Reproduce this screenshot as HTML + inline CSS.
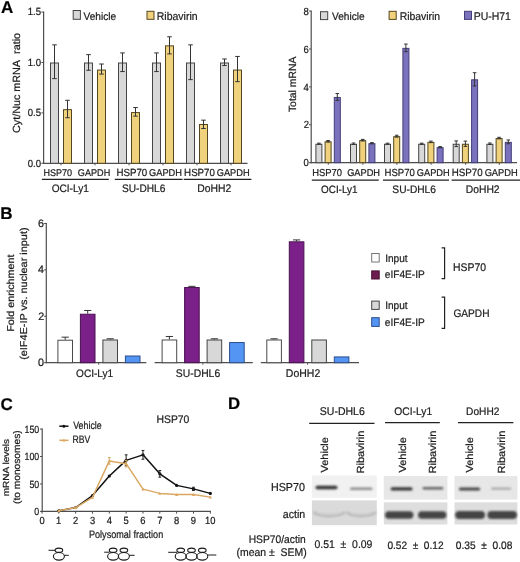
<!DOCTYPE html>
<html><head><meta charset="utf-8"><style>
html,body{margin:0;padding:0;background:#fff;}
body{width:520px;height:562px;overflow:hidden;}
svg{display:block;will-change:transform;font-family:"Liberation Sans", sans-serif;}
text{stroke:#1c1c1c;stroke-width:0.22px;}
</style></head><body>
<svg text-rendering="geometricPrecision" width="520" height="562" viewBox="0 0 520 562">
<defs><filter id="bl1" x="-20%" y="-100%" width="140%" height="300%"><feGaussianBlur stdDeviation="0.9"/></filter><filter id="bl2" x="-20%" y="-100%" width="140%" height="300%"><feGaussianBlur stdDeviation="1.4"/></filter></defs>
<rect width="520" height="562" fill="#fff"/>
<text x="0.9" y="13.4" font-size="17.0" text-anchor="start" fill="#000" font-weight="bold">A</text>
<text x="0.2" y="219.0" font-size="17.0" text-anchor="start" fill="#000" font-weight="bold">B</text>
<text x="0.5" y="409.5" font-size="17.0" text-anchor="start" fill="#000" font-weight="bold">C</text>
<text x="228.1" y="409.3" font-size="16.8" text-anchor="start" fill="#000" font-weight="bold">D</text>
<line x1="43.6" y1="11.600000000000023" x2="43.6" y2="163.8" stroke="#4d4d4d" stroke-width="1.2"/>
<line x1="41.4" y1="163.3" x2="43.6" y2="163.3" stroke="#4d4d4d" stroke-width="1"/>
<text x="27.68" y="166.6" font-size="10.4" text-anchor="start" fill="#1a1a1a" textLength="13.3" lengthAdjust="spacingAndGlyphs">0.0</text>
<line x1="41.4" y1="112.9" x2="43.6" y2="112.9" stroke="#4d4d4d" stroke-width="1"/>
<text x="27.68" y="116.2" font-size="10.4" text-anchor="start" fill="#1a1a1a" textLength="13.3" lengthAdjust="spacingAndGlyphs">0.5</text>
<line x1="41.4" y1="62.500000000000014" x2="43.6" y2="62.500000000000014" stroke="#4d4d4d" stroke-width="1"/>
<text x="27.68" y="65.8" font-size="10.4" text-anchor="start" fill="#1a1a1a" textLength="13.3" lengthAdjust="spacingAndGlyphs">1.0</text>
<line x1="41.4" y1="12.100000000000023" x2="43.6" y2="12.100000000000023" stroke="#4d4d4d" stroke-width="1"/>
<text x="27.68" y="15.4" font-size="10.4" text-anchor="start" fill="#1a1a1a" textLength="13.3" lengthAdjust="spacingAndGlyphs">1.5</text>
<line x1="43.0" y1="163.3" x2="247.5" y2="163.3" stroke="#4d4d4d" stroke-width="1.2"/>
<text transform="translate(20.0,133.04) rotate(-90)" font-size="10.4" text-anchor="start" fill="#1c1c1c" textLength="100.07" lengthAdjust="spacingAndGlyphs">Cyt/Nuc mRNA&#160; ratio</text>
<rect x="50.5" y="63.0" width="8" height="100.3" fill="#d8d8d8" stroke="#444444" stroke-width="1"/>
<line x1="54.5" y1="44.860000000000014" x2="54.5" y2="78.62800000000001" stroke="#333" stroke-width="1"/>
<line x1="52.2" y1="44.860000000000014" x2="56.8" y2="44.860000000000014" stroke="#333" stroke-width="1"/>
<line x1="52.2" y1="78.62800000000001" x2="56.8" y2="78.62800000000001" stroke="#333" stroke-width="1"/>
<rect x="63.5" y="109.67" width="8" height="53.63" fill="#f1d27c" stroke="#54471f" stroke-width="1"/>
<line x1="67.5" y1="100.30000000000001" x2="67.5" y2="117.73840000000001" stroke="#333" stroke-width="1"/>
<line x1="65.2" y1="100.30000000000001" x2="69.8" y2="100.30000000000001" stroke="#333" stroke-width="1"/>
<line x1="65.2" y1="117.73840000000001" x2="69.8" y2="117.73840000000001" stroke="#333" stroke-width="1"/>
<line x1="61" y1="163.3" x2="61" y2="165.3" stroke="#4d4d4d" stroke-width="1"/>
<rect x="84.5" y="63.0" width="8" height="100.3" fill="#d8d8d8" stroke="#444444" stroke-width="1"/>
<line x1="88.5" y1="54.637600000000006" x2="88.5" y2="70.26160000000002" stroke="#333" stroke-width="1"/>
<line x1="86.2" y1="54.637600000000006" x2="90.8" y2="54.637600000000006" stroke="#333" stroke-width="1"/>
<line x1="86.2" y1="70.26160000000002" x2="90.8" y2="70.26160000000002" stroke="#333" stroke-width="1"/>
<rect x="97.5" y="70.06" width="8" height="93.24" fill="#f1d27c" stroke="#54471f" stroke-width="1"/>
<line x1="101.5" y1="64.012" x2="101.5" y2="74.09200000000001" stroke="#333" stroke-width="1"/>
<line x1="99.2" y1="64.012" x2="103.8" y2="64.012" stroke="#333" stroke-width="1"/>
<line x1="99.2" y1="74.09200000000001" x2="103.8" y2="74.09200000000001" stroke="#333" stroke-width="1"/>
<line x1="95" y1="163.3" x2="95" y2="165.3" stroke="#4d4d4d" stroke-width="1"/>
<rect x="118.5" y="63.0" width="8" height="100.3" fill="#d8d8d8" stroke="#444444" stroke-width="1"/>
<line x1="122.5" y1="52.92400000000002" x2="122.5" y2="71.57200000000002" stroke="#333" stroke-width="1"/>
<line x1="120.2" y1="52.92400000000002" x2="124.8" y2="52.92400000000002" stroke="#333" stroke-width="1"/>
<line x1="120.2" y1="71.57200000000002" x2="124.8" y2="71.57200000000002" stroke="#333" stroke-width="1"/>
<rect x="131.5" y="112.59" width="8" height="50.71" fill="#f1d27c" stroke="#54471f" stroke-width="1"/>
<line x1="135.5" y1="107.55760000000001" x2="135.5" y2="116.12560000000002" stroke="#333" stroke-width="1"/>
<line x1="133.2" y1="107.55760000000001" x2="137.8" y2="107.55760000000001" stroke="#333" stroke-width="1"/>
<line x1="133.2" y1="116.12560000000002" x2="137.8" y2="116.12560000000002" stroke="#333" stroke-width="1"/>
<line x1="129" y1="163.3" x2="129" y2="165.3" stroke="#4d4d4d" stroke-width="1"/>
<rect x="152.5" y="63.0" width="8" height="100.3" fill="#d8d8d8" stroke="#444444" stroke-width="1"/>
<line x1="156.5" y1="52.92400000000002" x2="156.5" y2="71.57200000000002" stroke="#333" stroke-width="1"/>
<line x1="154.2" y1="52.92400000000002" x2="158.8" y2="52.92400000000002" stroke="#333" stroke-width="1"/>
<line x1="154.2" y1="71.57200000000002" x2="158.8" y2="71.57200000000002" stroke="#333" stroke-width="1"/>
<rect x="165.5" y="45.86" width="8" height="117.44" fill="#f1d27c" stroke="#54471f" stroke-width="1"/>
<line x1="169.5" y1="36.79600000000002" x2="169.5" y2="53.932000000000016" stroke="#333" stroke-width="1"/>
<line x1="167.2" y1="36.79600000000002" x2="171.8" y2="36.79600000000002" stroke="#333" stroke-width="1"/>
<line x1="167.2" y1="53.932000000000016" x2="171.8" y2="53.932000000000016" stroke="#333" stroke-width="1"/>
<line x1="163" y1="163.3" x2="163" y2="165.3" stroke="#4d4d4d" stroke-width="1"/>
<rect x="186.5" y="63.0" width="8" height="100.3" fill="#d8d8d8" stroke="#444444" stroke-width="1"/>
<line x1="190.5" y1="44.860000000000014" x2="190.5" y2="79.63600000000002" stroke="#333" stroke-width="1"/>
<line x1="188.2" y1="44.860000000000014" x2="192.8" y2="44.860000000000014" stroke="#333" stroke-width="1"/>
<line x1="188.2" y1="79.63600000000002" x2="192.8" y2="79.63600000000002" stroke="#333" stroke-width="1"/>
<rect x="199.5" y="124.49" width="8" height="38.81" fill="#f1d27c" stroke="#54471f" stroke-width="1"/>
<line x1="203.5" y1="120.15760000000002" x2="203.5" y2="128.524" stroke="#333" stroke-width="1"/>
<line x1="201.2" y1="120.15760000000002" x2="205.8" y2="120.15760000000002" stroke="#333" stroke-width="1"/>
<line x1="201.2" y1="128.524" x2="205.8" y2="128.524" stroke="#333" stroke-width="1"/>
<line x1="197" y1="163.3" x2="197" y2="165.3" stroke="#4d4d4d" stroke-width="1"/>
<rect x="220.5" y="63.0" width="8" height="100.3" fill="#d8d8d8" stroke="#444444" stroke-width="1"/>
<line x1="224.5" y1="58.97200000000002" x2="224.5" y2="65.52400000000002" stroke="#333" stroke-width="1"/>
<line x1="222.2" y1="58.97200000000002" x2="226.8" y2="58.97200000000002" stroke="#333" stroke-width="1"/>
<line x1="222.2" y1="65.52400000000002" x2="226.8" y2="65.52400000000002" stroke="#333" stroke-width="1"/>
<rect x="233.5" y="70.06" width="8" height="93.24" fill="#f1d27c" stroke="#54471f" stroke-width="1"/>
<line x1="237.5" y1="56.45200000000001" x2="237.5" y2="81.65200000000002" stroke="#333" stroke-width="1"/>
<line x1="235.2" y1="56.45200000000001" x2="239.8" y2="56.45200000000001" stroke="#333" stroke-width="1"/>
<line x1="235.2" y1="81.65200000000002" x2="239.8" y2="81.65200000000002" stroke="#333" stroke-width="1"/>
<line x1="231" y1="163.3" x2="231" y2="165.3" stroke="#4d4d4d" stroke-width="1"/>
<text x="43.38" y="176.2" font-size="9.66" text-anchor="start" fill="#1c1c1c" textLength="28.62" lengthAdjust="spacingAndGlyphs">HSP70</text>
<text x="77.84" y="176.2" font-size="9.75" text-anchor="start" fill="#1c1c1c" textLength="32.4" lengthAdjust="spacingAndGlyphs">GAPDH</text>
<text x="116.42" y="176.2" font-size="10.4" text-anchor="start" fill="#1c1c1c" textLength="30.8" lengthAdjust="spacingAndGlyphs">HSP70</text>
<text x="149.04" y="176.2" font-size="9.9" text-anchor="start" fill="#1c1c1c" textLength="32.91" lengthAdjust="spacingAndGlyphs">GAPDH</text>
<text x="184.12" y="176.2" font-size="10.4" text-anchor="start" fill="#1c1c1c" textLength="30.8" lengthAdjust="spacingAndGlyphs">HSP70</text>
<text x="216.74" y="176.2" font-size="9.9" text-anchor="start" fill="#1c1c1c" textLength="32.91" lengthAdjust="spacingAndGlyphs">GAPDH</text>
<line x1="41.9" y1="179.4" x2="108.8" y2="179.4" stroke="#222" stroke-width="1.2"/>
<line x1="114.8" y1="179.4" x2="182.5" y2="179.4" stroke="#222" stroke-width="1.2"/>
<line x1="183.7" y1="179.4" x2="251.4" y2="179.4" stroke="#222" stroke-width="1.2"/>
<text x="51.64" y="192.4" font-size="10.82" text-anchor="start" fill="#1c1c1c" textLength="37.27" lengthAdjust="spacingAndGlyphs">OCI-Ly1</text>
<text x="122.04" y="192.4" font-size="10.83" text-anchor="start" fill="#1c1c1c" textLength="43.3" lengthAdjust="spacingAndGlyphs">SU-DHL6</text>
<text x="197.27" y="192.4" font-size="11.07" text-anchor="start" fill="#1c1c1c" textLength="33.93" lengthAdjust="spacingAndGlyphs">DoHH2</text>
<rect x="73.2" y="10.5" width="7.2" height="8.8" fill="#d8d8d8" stroke="#444444" stroke-width="1"/>
<text x="83.55" y="19.6" font-size="10.82" text-anchor="start" fill="#1c1c1c" textLength="32.6" lengthAdjust="spacingAndGlyphs">Vehicle</text>
<rect x="147.0" y="11.3" width="7.0" height="8.0" fill="#f1d27c" stroke="#54471f" stroke-width="1"/>
<text x="156.76" y="19.6" font-size="11.23" text-anchor="start" fill="#1c1c1c" textLength="40.82" lengthAdjust="spacingAndGlyphs">Ribavirin</text>
<line x1="311.2" y1="10.599999999999994" x2="311.2" y2="163.2" stroke="#4d4d4d" stroke-width="1.2"/>
<line x1="309.0" y1="162.7" x2="311.2" y2="162.7" stroke="#4d4d4d" stroke-width="1"/>
<text x="303.57" y="166.3" font-size="10.4" text-anchor="start" fill="#1a1a1a" textLength="5.32" lengthAdjust="spacingAndGlyphs">0</text>
<line x1="309.0" y1="124.79999999999998" x2="311.2" y2="124.79999999999998" stroke="#4d4d4d" stroke-width="1"/>
<text x="303.67" y="128.4" font-size="10.4" text-anchor="start" fill="#1a1a1a" textLength="5.32" lengthAdjust="spacingAndGlyphs">2</text>
<line x1="309.0" y1="86.89999999999999" x2="311.2" y2="86.89999999999999" stroke="#4d4d4d" stroke-width="1"/>
<text x="303.48" y="90.5" font-size="10.4" text-anchor="start" fill="#1a1a1a" textLength="5.32" lengthAdjust="spacingAndGlyphs">4</text>
<line x1="309.0" y1="49.0" x2="311.2" y2="49.0" stroke="#4d4d4d" stroke-width="1"/>
<text x="303.62" y="52.6" font-size="10.4" text-anchor="start" fill="#1a1a1a" textLength="5.32" lengthAdjust="spacingAndGlyphs">6</text>
<line x1="309.0" y1="11.099999999999994" x2="311.2" y2="11.099999999999994" stroke="#4d4d4d" stroke-width="1"/>
<text x="303.57" y="14.7" font-size="10.4" text-anchor="start" fill="#1a1a1a" textLength="5.32" lengthAdjust="spacingAndGlyphs">8</text>
<line x1="310.59999999999997" y1="162.7" x2="517" y2="162.7" stroke="#4d4d4d" stroke-width="1.2"/>
<text transform="translate(296.3,112.11) rotate(-90)" font-size="10.4" text-anchor="start" fill="#1c1c1c" textLength="55.6" lengthAdjust="spacingAndGlyphs">Total mRNA</text>
<rect x="315.9" y="144.25" width="6.0" height="18.45" fill="#d8d8d8" stroke="#444444" stroke-width="1"/>
<line x1="318.9" y1="143.1815" x2="318.9" y2="144.3185" stroke="#333" stroke-width="1"/>
<line x1="317.09999999999997" y1="143.1815" x2="320.7" y2="143.1815" stroke="#333" stroke-width="1"/>
<line x1="317.09999999999997" y1="144.3185" x2="320.7" y2="144.3185" stroke="#333" stroke-width="1"/>
<rect x="325.1" y="141.79" width="6.0" height="20.91" fill="#f1d27c" stroke="#54471f" stroke-width="1"/>
<line x1="328.09999999999997" y1="140.52849999999998" x2="328.09999999999997" y2="142.0445" stroke="#333" stroke-width="1"/>
<line x1="326.29999999999995" y1="140.52849999999998" x2="329.9" y2="140.52849999999998" stroke="#333" stroke-width="1"/>
<line x1="326.29999999999995" y1="142.0445" x2="329.9" y2="142.0445" stroke="#333" stroke-width="1"/>
<rect x="334.3" y="97.44" width="6.0" height="65.26" fill="#7b72be" stroke="#433d78" stroke-width="1"/>
<line x1="337.29999999999995" y1="93.53249999999998" x2="337.29999999999995" y2="100.35449999999999" stroke="#333" stroke-width="1"/>
<line x1="335.49999999999994" y1="93.53249999999998" x2="339.09999999999997" y2="93.53249999999998" stroke="#333" stroke-width="1"/>
<line x1="335.49999999999994" y1="100.35449999999999" x2="339.09999999999997" y2="100.35449999999999" stroke="#333" stroke-width="1"/>
<line x1="328.29999999999995" y1="162.7" x2="328.29999999999995" y2="164.7" stroke="#4d4d4d" stroke-width="1"/>
<rect x="350.5" y="144.25" width="6.0" height="18.45" fill="#d8d8d8" stroke="#444444" stroke-width="1"/>
<line x1="353.5" y1="142.992" x2="353.5" y2="144.50799999999998" stroke="#333" stroke-width="1"/>
<line x1="351.7" y1="142.992" x2="355.3" y2="142.992" stroke="#333" stroke-width="1"/>
<line x1="351.7" y1="144.50799999999998" x2="355.3" y2="144.50799999999998" stroke="#333" stroke-width="1"/>
<rect x="359.7" y="140.65" width="6.0" height="22.05" fill="#f1d27c" stroke="#54471f" stroke-width="1"/>
<line x1="362.7" y1="139.39149999999998" x2="362.7" y2="140.9075" stroke="#333" stroke-width="1"/>
<line x1="360.9" y1="139.39149999999998" x2="364.5" y2="139.39149999999998" stroke="#333" stroke-width="1"/>
<line x1="360.9" y1="140.9075" x2="364.5" y2="140.9075" stroke="#333" stroke-width="1"/>
<rect x="368.9" y="143.68" width="6.0" height="19.02" fill="#7b72be" stroke="#433d78" stroke-width="1"/>
<line x1="371.9" y1="142.613" x2="371.9" y2="143.75" stroke="#333" stroke-width="1"/>
<line x1="370.09999999999997" y1="142.613" x2="373.7" y2="142.613" stroke="#333" stroke-width="1"/>
<line x1="370.09999999999997" y1="143.75" x2="373.7" y2="143.75" stroke="#333" stroke-width="1"/>
<line x1="362.9" y1="162.7" x2="362.9" y2="164.7" stroke="#4d4d4d" stroke-width="1"/>
<rect x="384.5" y="144.25" width="6.0" height="18.45" fill="#d8d8d8" stroke="#444444" stroke-width="1"/>
<line x1="387.5" y1="143.1815" x2="387.5" y2="144.3185" stroke="#333" stroke-width="1"/>
<line x1="385.7" y1="143.1815" x2="389.3" y2="143.1815" stroke="#333" stroke-width="1"/>
<line x1="385.7" y1="144.3185" x2="389.3" y2="144.3185" stroke="#333" stroke-width="1"/>
<rect x="393.7" y="136.67" width="6.0" height="26.03" fill="#f1d27c" stroke="#54471f" stroke-width="1"/>
<line x1="396.7" y1="135.2225" x2="396.7" y2="137.1175" stroke="#333" stroke-width="1"/>
<line x1="394.9" y1="135.2225" x2="398.5" y2="135.2225" stroke="#333" stroke-width="1"/>
<line x1="394.9" y1="137.1175" x2="398.5" y2="137.1175" stroke="#333" stroke-width="1"/>
<rect x="402.9" y="48.36" width="6.0" height="114.34" fill="#7b72be" stroke="#433d78" stroke-width="1"/>
<line x1="405.9" y1="44.07299999999999" x2="405.9" y2="51.653000000000006" stroke="#333" stroke-width="1"/>
<line x1="404.09999999999997" y1="44.07299999999999" x2="407.7" y2="44.07299999999999" stroke="#333" stroke-width="1"/>
<line x1="404.09999999999997" y1="51.653000000000006" x2="407.7" y2="51.653000000000006" stroke="#333" stroke-width="1"/>
<line x1="396.9" y1="162.7" x2="396.9" y2="164.7" stroke="#4d4d4d" stroke-width="1"/>
<rect x="418.7" y="144.25" width="6.0" height="18.45" fill="#d8d8d8" stroke="#444444" stroke-width="1"/>
<line x1="421.7" y1="143.1815" x2="421.7" y2="144.3185" stroke="#333" stroke-width="1"/>
<line x1="419.9" y1="143.1815" x2="423.5" y2="143.1815" stroke="#333" stroke-width="1"/>
<line x1="419.9" y1="144.3185" x2="423.5" y2="144.3185" stroke="#333" stroke-width="1"/>
<rect x="427.9" y="142.35" width="6.0" height="20.34" fill="#f1d27c" stroke="#54471f" stroke-width="1"/>
<line x1="430.9" y1="141.09699999999998" x2="430.9" y2="142.613" stroke="#333" stroke-width="1"/>
<line x1="429.09999999999997" y1="141.09699999999998" x2="432.7" y2="141.09699999999998" stroke="#333" stroke-width="1"/>
<line x1="429.09999999999997" y1="142.613" x2="432.7" y2="142.613" stroke="#333" stroke-width="1"/>
<rect x="437.1" y="147.66" width="6.0" height="15.04" fill="#7b72be" stroke="#433d78" stroke-width="1"/>
<line x1="440.09999999999997" y1="146.5925" x2="440.09999999999997" y2="147.7295" stroke="#333" stroke-width="1"/>
<line x1="438.29999999999995" y1="146.5925" x2="441.9" y2="146.5925" stroke="#333" stroke-width="1"/>
<line x1="438.29999999999995" y1="147.7295" x2="441.9" y2="147.7295" stroke="#333" stroke-width="1"/>
<line x1="431.09999999999997" y1="162.7" x2="431.09999999999997" y2="164.7" stroke="#4d4d4d" stroke-width="1"/>
<rect x="453.2" y="144.25" width="6.0" height="18.45" fill="#d8d8d8" stroke="#444444" stroke-width="1"/>
<line x1="456.2" y1="140.9075" x2="456.2" y2="146.5925" stroke="#333" stroke-width="1"/>
<line x1="454.4" y1="140.9075" x2="458.0" y2="140.9075" stroke="#333" stroke-width="1"/>
<line x1="454.4" y1="146.5925" x2="458.0" y2="146.5925" stroke="#333" stroke-width="1"/>
<rect x="462.4" y="144.25" width="6.0" height="18.45" fill="#f1d27c" stroke="#54471f" stroke-width="1"/>
<line x1="465.4" y1="141.09699999999998" x2="465.4" y2="146.403" stroke="#333" stroke-width="1"/>
<line x1="463.59999999999997" y1="141.09699999999998" x2="467.2" y2="141.09699999999998" stroke="#333" stroke-width="1"/>
<line x1="463.59999999999997" y1="146.403" x2="467.2" y2="146.403" stroke="#333" stroke-width="1"/>
<rect x="471.6" y="79.82" width="6.0" height="82.88" fill="#7b72be" stroke="#433d78" stroke-width="1"/>
<line x1="474.59999999999997" y1="72.68749999999999" x2="474.59999999999997" y2="85.95249999999997" stroke="#333" stroke-width="1"/>
<line x1="472.79999999999995" y1="72.68749999999999" x2="476.4" y2="72.68749999999999" stroke="#333" stroke-width="1"/>
<line x1="472.79999999999995" y1="85.95249999999997" x2="476.4" y2="85.95249999999997" stroke="#333" stroke-width="1"/>
<line x1="465.59999999999997" y1="162.7" x2="465.59999999999997" y2="164.7" stroke="#4d4d4d" stroke-width="1"/>
<rect x="486.9" y="144.25" width="6.0" height="18.45" fill="#d8d8d8" stroke="#444444" stroke-width="1"/>
<line x1="489.9" y1="142.992" x2="489.9" y2="144.50799999999998" stroke="#333" stroke-width="1"/>
<line x1="488.09999999999997" y1="142.992" x2="491.7" y2="142.992" stroke="#333" stroke-width="1"/>
<line x1="488.09999999999997" y1="144.50799999999998" x2="491.7" y2="144.50799999999998" stroke="#333" stroke-width="1"/>
<rect x="496.1" y="138.56" width="6.0" height="24.13" fill="#f1d27c" stroke="#54471f" stroke-width="1"/>
<line x1="499.09999999999997" y1="137.307" x2="499.09999999999997" y2="138.82299999999998" stroke="#333" stroke-width="1"/>
<line x1="497.29999999999995" y1="137.307" x2="500.9" y2="137.307" stroke="#333" stroke-width="1"/>
<line x1="497.29999999999995" y1="138.82299999999998" x2="500.9" y2="138.82299999999998" stroke="#333" stroke-width="1"/>
<rect x="505.3" y="142.35" width="6.0" height="20.34" fill="#7b72be" stroke="#433d78" stroke-width="1"/>
<line x1="508.29999999999995" y1="139.95999999999998" x2="508.29999999999995" y2="143.75" stroke="#333" stroke-width="1"/>
<line x1="506.49999999999994" y1="139.95999999999998" x2="510.09999999999997" y2="139.95999999999998" stroke="#333" stroke-width="1"/>
<line x1="506.49999999999994" y1="143.75" x2="510.09999999999997" y2="143.75" stroke="#333" stroke-width="1"/>
<line x1="499.29999999999995" y1="162.7" x2="499.29999999999995" y2="164.7" stroke="#4d4d4d" stroke-width="1"/>
<text x="312.25" y="176.2" font-size="10.05" text-anchor="start" fill="#1c1c1c" textLength="29.76" lengthAdjust="spacingAndGlyphs">HSP70</text>
<text x="347.14" y="176.2" font-size="9.9" text-anchor="start" fill="#1c1c1c" textLength="32.91" lengthAdjust="spacingAndGlyphs">GAPDH</text>
<text x="384.54" y="176.2" font-size="10.23" text-anchor="start" fill="#1c1c1c" textLength="30.28" lengthAdjust="spacingAndGlyphs">HSP70</text>
<text x="416.84" y="176.2" font-size="9.9" text-anchor="start" fill="#1c1c1c" textLength="32.91" lengthAdjust="spacingAndGlyphs">GAPDH</text>
<text x="451.72" y="176.2" font-size="10.44" text-anchor="start" fill="#1c1c1c" textLength="30.91" lengthAdjust="spacingAndGlyphs">HSP70</text>
<text x="484.63" y="176.2" font-size="9.97" text-anchor="start" fill="#1c1c1c" textLength="33.12" lengthAdjust="spacingAndGlyphs">GAPDH</text>
<line x1="311.8" y1="180.2" x2="378.8" y2="180.2" stroke="#222" stroke-width="1.2"/>
<line x1="383.0" y1="180.2" x2="449.0" y2="180.2" stroke="#222" stroke-width="1.2"/>
<line x1="451.6" y1="180.2" x2="520" y2="180.2" stroke="#222" stroke-width="1.2"/>
<text x="321.06" y="193.0" font-size="10.58" text-anchor="start" fill="#1c1c1c" textLength="36.45" lengthAdjust="spacingAndGlyphs">OCI-Ly1</text>
<text x="392.34" y="192.6" font-size="10.9" text-anchor="start" fill="#1c1c1c" textLength="43.61" lengthAdjust="spacingAndGlyphs">SU-DHL6</text>
<text x="465.77" y="192.6" font-size="11.04" text-anchor="start" fill="#1c1c1c" textLength="33.83" lengthAdjust="spacingAndGlyphs">DoHH2</text>
<rect x="320.5" y="11.7" width="7.2" height="7.9" fill="#d8d8d8" stroke="#444444" stroke-width="1"/>
<text x="332.05" y="19.6" font-size="10.82" text-anchor="start" fill="#1c1c1c" textLength="32.6" lengthAdjust="spacingAndGlyphs">Vehicle</text>
<rect x="389.1" y="11.3" width="7.1" height="8.1" fill="#f1d27c" stroke="#54471f" stroke-width="1"/>
<text x="399.67" y="19.6" font-size="11.14" text-anchor="start" fill="#1c1c1c" textLength="40.51" lengthAdjust="spacingAndGlyphs">Ribavirin</text>
<rect x="464.5" y="11.3" width="7" height="8.1" fill="#7b72be" stroke="#433d78" stroke-width="1"/>
<text x="473.66" y="19.6" font-size="11.18" text-anchor="start" fill="#1c1c1c" textLength="37.18" lengthAdjust="spacingAndGlyphs">PU-H71</text>
<line x1="46.3" y1="222.94" x2="46.3" y2="363.2" stroke="#4d4d4d" stroke-width="1.2"/>
<line x1="44.099999999999994" y1="362.7" x2="46.3" y2="362.7" stroke="#4d4d4d" stroke-width="1"/>
<text x="38.04" y="366.1" font-size="10.8" text-anchor="start" fill="#1a1a1a" textLength="6.01" lengthAdjust="spacingAndGlyphs">0</text>
<line x1="44.099999999999994" y1="316.28" x2="46.3" y2="316.28" stroke="#4d4d4d" stroke-width="1"/>
<text x="38.15" y="319.68" font-size="10.8" text-anchor="start" fill="#1a1a1a" textLength="6.01" lengthAdjust="spacingAndGlyphs">2</text>
<line x1="44.099999999999994" y1="269.86" x2="46.3" y2="269.86" stroke="#4d4d4d" stroke-width="1"/>
<text x="37.93" y="273.26" font-size="10.8" text-anchor="start" fill="#1a1a1a" textLength="6.01" lengthAdjust="spacingAndGlyphs">4</text>
<line x1="44.099999999999994" y1="223.44" x2="46.3" y2="223.44" stroke="#4d4d4d" stroke-width="1"/>
<text x="38.09" y="226.84" font-size="10.8" text-anchor="start" fill="#1a1a1a" textLength="6.01" lengthAdjust="spacingAndGlyphs">6</text>
<text transform="translate(14.3,331.86) rotate(-90)" font-size="10.0" text-anchor="start" fill="#1c1c1c" textLength="77.47" lengthAdjust="spacingAndGlyphs">Fold enrichment</text>
<text transform="translate(27.2,359.85) rotate(-90)" font-size="10.0" text-anchor="start" fill="#1c1c1c" textLength="132.45" lengthAdjust="spacingAndGlyphs">(eIF4E-IP vs. nuclear input)</text>
<line x1="45.699999999999996" y1="362.7" x2="146.3" y2="362.7" stroke="#4d4d4d" stroke-width="1.2"/>
<line x1="154.6" y1="362.7" x2="252.8" y2="362.7" stroke="#4d4d4d" stroke-width="1.2"/>
<line x1="260.8" y1="362.7" x2="359.0" y2="362.7" stroke="#4d4d4d" stroke-width="1.2"/>
<rect x="57.9" y="340.22" width="14.6" height="22.48" fill="#ffffff" stroke="#4a4a4a" stroke-width="1"/>
<line x1="65.2" y1="339.7221" x2="65.2" y2="337.169" stroke="#333" stroke-width="1"/>
<line x1="61.6" y1="337.169" x2="68.8" y2="337.169" stroke="#333" stroke-width="1"/>
<rect x="80.4" y="314.23" width="14.6" height="48.47" fill="#7b2088" stroke="#4a1152" stroke-width="1"/>
<line x1="87.7" y1="313.7269" x2="87.7" y2="310.47749999999996" stroke="#333" stroke-width="1"/>
<line x1="84.10000000000001" y1="310.47749999999996" x2="91.30000000000001" y2="310.47749999999996" stroke="#333" stroke-width="1"/>
<rect x="102.9" y="339.99" width="14.6" height="22.71" fill="#d8d8d8" stroke="#444444" stroke-width="1"/>
<line x1="110.2" y1="339.49" x2="110.2" y2="338.7937" stroke="#333" stroke-width="1"/>
<line x1="106.60000000000001" y1="338.7937" x2="113.80000000000001" y2="338.7937" stroke="#333" stroke-width="1"/>
<rect x="125.4" y="356.0" width="14.6" height="6.7" fill="#5495f4" stroke="#2c4e8c" stroke-width="1"/>
<line x1="98.69999999999999" y1="362.7" x2="98.69999999999999" y2="364.7" stroke="#4d4d4d" stroke-width="1"/>
<rect x="162.1" y="339.99" width="14.6" height="22.71" fill="#ffffff" stroke="#4a4a4a" stroke-width="1"/>
<line x1="169.4" y1="339.49" x2="169.4" y2="336.4727" stroke="#333" stroke-width="1"/>
<line x1="165.79999999999998" y1="336.4727" x2="173.0" y2="336.4727" stroke="#333" stroke-width="1"/>
<rect x="184.6" y="287.54" width="14.6" height="75.16" fill="#7b2088" stroke="#4a1152" stroke-width="1"/>
<line x1="191.9" y1="287.0354" x2="191.9" y2="286.33910000000003" stroke="#333" stroke-width="1"/>
<line x1="188.29999999999998" y1="286.33910000000003" x2="195.5" y2="286.33910000000003" stroke="#333" stroke-width="1"/>
<rect x="207.1" y="339.99" width="14.6" height="22.71" fill="#d8d8d8" stroke="#444444" stroke-width="1"/>
<line x1="214.4" y1="339.49" x2="214.4" y2="338.7937" stroke="#333" stroke-width="1"/>
<line x1="210.79999999999998" y1="338.7937" x2="218.0" y2="338.7937" stroke="#333" stroke-width="1"/>
<rect x="229.6" y="342.54" width="14.6" height="20.16" fill="#5495f4" stroke="#2c4e8c" stroke-width="1"/>
<line x1="202.89999999999998" y1="362.7" x2="202.89999999999998" y2="364.7" stroke="#4d4d4d" stroke-width="1"/>
<rect x="266.8" y="339.99" width="14.6" height="22.71" fill="#ffffff" stroke="#4a4a4a" stroke-width="1"/>
<line x1="274.1" y1="339.49" x2="274.1" y2="338.7937" stroke="#333" stroke-width="1"/>
<line x1="270.5" y1="338.7937" x2="277.7" y2="338.7937" stroke="#333" stroke-width="1"/>
<rect x="289.3" y="241.81" width="14.6" height="120.89" fill="#7b2088" stroke="#4a1152" stroke-width="1"/>
<line x1="296.6" y1="241.31169999999997" x2="296.6" y2="239.9191" stroke="#333" stroke-width="1"/>
<line x1="293.0" y1="239.9191" x2="300.2" y2="239.9191" stroke="#333" stroke-width="1"/>
<rect x="311.8" y="339.99" width="14.6" height="22.71" fill="#d8d8d8" stroke="#444444" stroke-width="1"/>
<rect x="334.3" y="356.93" width="14.6" height="5.77" fill="#5495f4" stroke="#2c4e8c" stroke-width="1"/>
<line x1="307.6" y1="362.7" x2="307.6" y2="364.7" stroke="#4d4d4d" stroke-width="1"/>
<text x="76.05" y="376.9" font-size="10.79" text-anchor="start" fill="#1c1c1c" textLength="37.17" lengthAdjust="spacingAndGlyphs">OCI-Ly1</text>
<text x="175.83" y="377.0" font-size="11.08" text-anchor="start" fill="#1c1c1c" textLength="44.32" lengthAdjust="spacingAndGlyphs">SU-DHL6</text>
<text x="285.86" y="377.0" font-size="11.21" text-anchor="start" fill="#1c1c1c" textLength="34.35" lengthAdjust="spacingAndGlyphs">DoHH2</text>
<rect x="371.7" y="253.5" width="7.5" height="8.5" fill="#ffffff" stroke="#777" stroke-width="1"/>
<text x="385.19" y="262.0" font-size="10.78" text-anchor="start" fill="#1c1c1c" textLength="22.4" lengthAdjust="spacingAndGlyphs">Input</text>
<rect x="371.7" y="270.9" width="7.5" height="8.1" fill="#6b1d4d" stroke="#4a1035" stroke-width="1"/>
<text x="384.84" y="278.3" font-size="10.84" text-anchor="start" fill="#1c1c1c" textLength="39.97" lengthAdjust="spacingAndGlyphs">eIF4E-IP</text>
<rect x="371.7" y="301.1" width="7.5" height="8.3" fill="#d8d8d8" stroke="#444444" stroke-width="1"/>
<text x="385.19" y="309.0" font-size="10.78" text-anchor="start" fill="#1c1c1c" textLength="22.4" lengthAdjust="spacingAndGlyphs">Input</text>
<rect x="371.7" y="317.7" width="7.5" height="8.7" fill="#5495f4" stroke="#2c4e8c" stroke-width="1"/>
<text x="384.84" y="326.0" font-size="10.84" text-anchor="start" fill="#1c1c1c" textLength="39.97" lengthAdjust="spacingAndGlyphs">eIF4E-IP</text>
<path d="M441.6 247.8 H444.6 V278.6 H441.6" fill="none" stroke="#222" stroke-width="1.2"/>
<path d="M441.6 297.2 H444.6 V328.4 H441.6" fill="none" stroke="#222" stroke-width="1.2"/>
<text x="453.07" y="271.0" font-size="11.14" text-anchor="start" fill="#1c1c1c" textLength="32.99" lengthAdjust="spacingAndGlyphs">HSP70</text>
<text x="453.39" y="316.6" font-size="10.87" text-anchor="start" fill="#1c1c1c" textLength="36.13" lengthAdjust="spacingAndGlyphs">GAPDH</text>
<line x1="42.2" y1="428.54999999999995" x2="42.2" y2="511.9" stroke="#4d4d4d" stroke-width="1.2"/>
<line x1="40.0" y1="511.4" x2="42.2" y2="511.4" stroke="#4d4d4d" stroke-width="1"/>
<text x="34.35" y="515.0" font-size="10.4" text-anchor="start" fill="#1a1a1a" textLength="4.92" lengthAdjust="spacingAndGlyphs">0</text>
<line x1="40.0" y1="483.95" x2="42.2" y2="483.95" stroke="#4d4d4d" stroke-width="1"/>
<text x="29.44" y="487.55" font-size="10.4" text-anchor="start" fill="#1a1a1a" textLength="9.83" lengthAdjust="spacingAndGlyphs">50</text>
<line x1="40.0" y1="456.5" x2="42.2" y2="456.5" stroke="#4d4d4d" stroke-width="1"/>
<text x="24.54" y="460.1" font-size="10.4" text-anchor="start" fill="#1a1a1a" textLength="14.75" lengthAdjust="spacingAndGlyphs">100</text>
<line x1="40.0" y1="429.04999999999995" x2="42.2" y2="429.04999999999995" stroke="#4d4d4d" stroke-width="1"/>
<text x="24.54" y="432.65" font-size="10.4" text-anchor="start" fill="#1a1a1a" textLength="14.75" lengthAdjust="spacingAndGlyphs">150</text>
<line x1="41.6" y1="511.4" x2="210.89999999999998" y2="511.4" stroke="#4d4d4d" stroke-width="1.2"/>
<line x1="42.0" y1="511.4" x2="42.0" y2="513.6" stroke="#4d4d4d" stroke-width="1"/>
<text x="39.4" y="523.7" font-size="10.4" text-anchor="start" fill="#1a1a1a" textLength="5.21" lengthAdjust="spacingAndGlyphs">0</text>
<line x1="58.83" y1="511.4" x2="58.83" y2="513.6" stroke="#4d4d4d" stroke-width="1"/>
<text x="56.12" y="523.7" font-size="10.4" text-anchor="start" fill="#1a1a1a" textLength="5.21" lengthAdjust="spacingAndGlyphs">1</text>
<line x1="75.66" y1="511.4" x2="75.66" y2="513.6" stroke="#4d4d4d" stroke-width="1"/>
<text x="73.06" y="523.7" font-size="10.4" text-anchor="start" fill="#1a1a1a" textLength="5.21" lengthAdjust="spacingAndGlyphs">2</text>
<line x1="92.49" y1="511.4" x2="92.49" y2="513.6" stroke="#4d4d4d" stroke-width="1"/>
<text x="89.92" y="523.7" font-size="10.4" text-anchor="start" fill="#1a1a1a" textLength="5.21" lengthAdjust="spacingAndGlyphs">3</text>
<line x1="109.32" y1="511.4" x2="109.32" y2="513.6" stroke="#4d4d4d" stroke-width="1"/>
<text x="106.75" y="523.7" font-size="10.4" text-anchor="start" fill="#1a1a1a" textLength="5.21" lengthAdjust="spacingAndGlyphs">4</text>
<line x1="126.14999999999999" y1="511.4" x2="126.14999999999999" y2="513.6" stroke="#4d4d4d" stroke-width="1"/>
<text x="123.55" y="523.7" font-size="10.4" text-anchor="start" fill="#1a1a1a" textLength="5.21" lengthAdjust="spacingAndGlyphs">5</text>
<line x1="142.98" y1="511.4" x2="142.98" y2="513.6" stroke="#4d4d4d" stroke-width="1"/>
<text x="140.36" y="523.7" font-size="10.4" text-anchor="start" fill="#1a1a1a" textLength="5.21" lengthAdjust="spacingAndGlyphs">6</text>
<line x1="159.81" y1="511.4" x2="159.81" y2="513.6" stroke="#4d4d4d" stroke-width="1"/>
<text x="157.21" y="523.7" font-size="10.4" text-anchor="start" fill="#1a1a1a" textLength="5.21" lengthAdjust="spacingAndGlyphs">7</text>
<line x1="176.64" y1="511.4" x2="176.64" y2="513.6" stroke="#4d4d4d" stroke-width="1"/>
<text x="174.02" y="523.7" font-size="10.4" text-anchor="start" fill="#1a1a1a" textLength="5.21" lengthAdjust="spacingAndGlyphs">8</text>
<line x1="193.46999999999997" y1="511.4" x2="193.46999999999997" y2="513.6" stroke="#4d4d4d" stroke-width="1"/>
<text x="190.87" y="523.7" font-size="10.4" text-anchor="start" fill="#1a1a1a" textLength="5.21" lengthAdjust="spacingAndGlyphs">9</text>
<line x1="210.29999999999998" y1="511.4" x2="210.29999999999998" y2="513.6" stroke="#4d4d4d" stroke-width="1"/>
<text x="204.94" y="523.7" font-size="10.4" text-anchor="start" fill="#1a1a1a" textLength="10.41" lengthAdjust="spacingAndGlyphs">10</text>
<text x="88.97" y="537.6" font-size="10.6" text-anchor="start" fill="#1c1c1c" textLength="74.22" lengthAdjust="spacingAndGlyphs">Polysomal fraction</text>
<text transform="translate(9.0,496.35) rotate(-90)" font-size="8.8" text-anchor="start" fill="#1c1c1c" textLength="57.39" lengthAdjust="spacingAndGlyphs">mRNA levels</text>
<text transform="translate(20.1,503.91) rotate(-90)" font-size="9.6" text-anchor="start" fill="#1c1c1c" textLength="73.57" lengthAdjust="spacingAndGlyphs">(to monosomes)</text>
<text x="156.47" y="422.8" font-size="11.1" text-anchor="start" fill="#1c1c1c" textLength="32.88" lengthAdjust="spacingAndGlyphs">HSP70</text>
<polyline points="58.83,510.85 75.66,507.56 92.49,495.59 109.32,475.99 126.15,460.34 142.98,454.85 159.81,473.85 176.64,485.38 193.47,488.89 210.30,493.39" fill="none" stroke="#111111" stroke-width="1.5" stroke-linejoin="round"/>
<circle cx="58.83" cy="510.85" r="1.6" fill="#111111"/>
<circle cx="75.66" cy="507.56" r="1.6" fill="#111111"/>
<circle cx="92.49" cy="495.59" r="1.6" fill="#111111"/>
<circle cx="109.32" cy="475.99" r="1.6" fill="#111111"/>
<circle cx="126.15" cy="460.34" r="1.6" fill="#111111"/>
<circle cx="142.98" cy="454.85" r="1.6" fill="#111111"/>
<circle cx="159.81" cy="473.85" r="1.6" fill="#111111"/>
<circle cx="176.64" cy="485.38" r="1.6" fill="#111111"/>
<circle cx="193.47" cy="488.89" r="1.6" fill="#111111"/>
<circle cx="210.30" cy="493.39" r="1.6" fill="#111111"/>
<line x1="126.14999999999999" y1="454.85299999999995" x2="126.14999999999999" y2="465.83299999999997" stroke="#222" stroke-width="1"/>
<line x1="124.74999999999999" y1="454.85299999999995" x2="127.55" y2="454.85299999999995" stroke="#222" stroke-width="1"/>
<line x1="124.74999999999999" y1="465.83299999999997" x2="127.55" y2="465.83299999999997" stroke="#222" stroke-width="1"/>
<line x1="142.98" y1="450.46099999999996" x2="142.98" y2="459.245" stroke="#222" stroke-width="1"/>
<line x1="141.57999999999998" y1="450.46099999999996" x2="144.38" y2="450.46099999999996" stroke="#222" stroke-width="1"/>
<line x1="141.57999999999998" y1="459.245" x2="144.38" y2="459.245" stroke="#222" stroke-width="1"/>
<line x1="159.81" y1="470.5544" x2="159.81" y2="477.14239999999995" stroke="#222" stroke-width="1"/>
<line x1="158.41" y1="470.5544" x2="161.21" y2="470.5544" stroke="#222" stroke-width="1"/>
<line x1="158.41" y1="477.14239999999995" x2="161.21" y2="477.14239999999995" stroke="#222" stroke-width="1"/>
<line x1="193.46999999999997" y1="487.24399999999997" x2="193.46999999999997" y2="490.53799999999995" stroke="#222" stroke-width="1"/>
<line x1="192.06999999999996" y1="487.24399999999997" x2="194.86999999999998" y2="487.24399999999997" stroke="#222" stroke-width="1"/>
<line x1="192.06999999999996" y1="490.53799999999995" x2="194.86999999999998" y2="490.53799999999995" stroke="#222" stroke-width="1"/>
<polyline points="58.83,510.85 75.66,507.56 92.49,497.29 109.32,460.89 126.15,463.64 142.98,489.11 159.81,493.39 176.64,494.60 193.47,494.60 210.30,497.13" fill="none" stroke="#dba863" stroke-width="1.5" stroke-linejoin="round"/>
<path d="M57.13 512.25 L58.83 509.25 L60.53 512.25Z" fill="#dba863"/>
<path d="M73.96 508.96 L75.66 505.96 L77.36 508.96Z" fill="#dba863"/>
<path d="M90.79 498.69 L92.49 495.69 L94.19 498.69Z" fill="#dba863"/>
<path d="M107.62 462.29 L109.32 459.29 L111.02 462.29Z" fill="#dba863"/>
<path d="M124.45 465.04 L126.15 462.04 L127.85 465.04Z" fill="#dba863"/>
<path d="M141.28 490.51 L142.98 487.51 L144.68 490.51Z" fill="#dba863"/>
<path d="M158.11 494.79 L159.81 491.79 L161.51 494.79Z" fill="#dba863"/>
<path d="M174.94 496.00 L176.64 493.00 L178.34 496.00Z" fill="#dba863"/>
<path d="M191.77 496.00 L193.47 493.00 L195.17 496.00Z" fill="#dba863"/>
<path d="M208.60 498.53 L210.30 495.53 L212.00 498.53Z" fill="#dba863"/>
<line x1="109.32" y1="457.59799999999996" x2="109.32" y2="464.186" stroke="#dba863" stroke-width="1"/>
<line x1="107.91999999999999" y1="457.59799999999996" x2="110.72" y2="457.59799999999996" stroke="#dba863" stroke-width="1"/>
<line x1="107.91999999999999" y1="464.186" x2="110.72" y2="464.186" stroke="#dba863" stroke-width="1"/>
<line x1="126.14999999999999" y1="460.34299999999996" x2="126.14999999999999" y2="466.931" stroke="#dba863" stroke-width="1"/>
<line x1="124.74999999999999" y1="460.34299999999996" x2="127.55" y2="460.34299999999996" stroke="#dba863" stroke-width="1"/>
<line x1="124.74999999999999" y1="466.931" x2="127.55" y2="466.931" stroke="#dba863" stroke-width="1"/>
<line x1="59.3" y1="426.2" x2="68.5" y2="426.2" stroke="#111111" stroke-width="1.5"/>
<circle cx="63.9" cy="426.2" r="1.5" fill="#111111"/>
<text x="73.16" y="429.4" font-size="10.6" text-anchor="start" fill="#1c1c1c" textLength="28.54" lengthAdjust="spacingAndGlyphs">Vehicle</text>
<line x1="59.3" y1="440.3" x2="68.5" y2="440.3" stroke="#dba863" stroke-width="1.5"/>
<path d="M62.2 441.6 L63.9 438.7 L65.6 441.6Z" fill="#dba863"/>
<text x="72.51" y="443.3" font-size="10.6" text-anchor="start" fill="#1c1c1c" textLength="17.85" lengthAdjust="spacingAndGlyphs">RBV</text>
<line x1="48.5" y1="550.3" x2="55.3" y2="550.3" stroke="#1a1a1a" stroke-width="1"/>
<ellipse cx="58.9" cy="550.2" rx="3.8" ry="2.1" fill="none" stroke="#1a1a1a" stroke-width="1.1"/>
<ellipse cx="58.9" cy="556.3" rx="5.5" ry="3.8" fill="none" stroke="#1a1a1a" stroke-width="1.1"/>
<line x1="64.3" y1="555.3" x2="68.8" y2="555.3" stroke="#1a1a1a" stroke-width="1"/>
<line x1="104.2" y1="552.2" x2="109.5" y2="552.2" stroke="#1a1a1a" stroke-width="1"/>
<ellipse cx="113.1" cy="550.2" rx="3.8" ry="2.1" fill="none" stroke="#1a1a1a" stroke-width="1.1"/>
<ellipse cx="113.1" cy="556.3" rx="5.5" ry="3.8" fill="none" stroke="#1a1a1a" stroke-width="1.1"/>
<ellipse cx="123.89999999999999" cy="550.2" rx="3.8" ry="2.1" fill="none" stroke="#1a1a1a" stroke-width="1.1"/>
<ellipse cx="123.89999999999999" cy="556.3" rx="5.5" ry="3.8" fill="none" stroke="#1a1a1a" stroke-width="1.1"/>
<line x1="129.29999999999998" y1="555.3" x2="134.6" y2="555.3" stroke="#1a1a1a" stroke-width="1"/>
<line x1="168.2" y1="552.3" x2="177.1" y2="552.3" stroke="#1a1a1a" stroke-width="1"/>
<ellipse cx="180.7" cy="550.2" rx="3.8" ry="2.1" fill="none" stroke="#1a1a1a" stroke-width="1.1"/>
<ellipse cx="180.7" cy="556.3" rx="5.5" ry="3.8" fill="none" stroke="#1a1a1a" stroke-width="1.1"/>
<ellipse cx="191.5" cy="550.2" rx="3.8" ry="2.1" fill="none" stroke="#1a1a1a" stroke-width="1.1"/>
<ellipse cx="191.5" cy="556.3" rx="5.5" ry="3.8" fill="none" stroke="#1a1a1a" stroke-width="1.1"/>
<ellipse cx="202.29999999999998" cy="550.2" rx="3.8" ry="2.1" fill="none" stroke="#1a1a1a" stroke-width="1.1"/>
<ellipse cx="202.29999999999998" cy="556.3" rx="5.5" ry="3.8" fill="none" stroke="#1a1a1a" stroke-width="1.1"/>
<line x1="207.7" y1="555.0" x2="216.3" y2="555.0" stroke="#1a1a1a" stroke-width="1"/>
<text x="319.83" y="414.6" font-size="11.24" text-anchor="start" fill="#1c1c1c" textLength="44.93" lengthAdjust="spacingAndGlyphs">SU-DHL6</text>
<text x="394.34" y="414.6" font-size="11.0" text-anchor="start" fill="#1c1c1c" textLength="37.89" lengthAdjust="spacingAndGlyphs">OCI-Ly1</text>
<text x="466.09" y="414.6" font-size="10.87" text-anchor="start" fill="#1c1c1c" textLength="33.31" lengthAdjust="spacingAndGlyphs">DoHH2</text>
<line x1="309.2" y1="423.3" x2="374.5" y2="423.3" stroke="#222" stroke-width="1.2"/>
<line x1="385" y1="422.6" x2="439.8" y2="422.6" stroke="#222" stroke-width="1.2"/>
<line x1="458" y1="422.6" x2="513.4" y2="422.6" stroke="#222" stroke-width="1.2"/>
<text transform="translate(328.1,472.45) rotate(-90)" font-size="10.24" text-anchor="start" fill="#1c1c1c" textLength="35.35" lengthAdjust="spacingAndGlyphs">Vehicle</text>
<text transform="translate(364.4,473.48) rotate(-90)" font-size="10.31" text-anchor="start" fill="#1c1c1c" textLength="42.9" lengthAdjust="spacingAndGlyphs">Ribavirin</text>
<text transform="translate(405.8,472.45) rotate(-90)" font-size="10.24" text-anchor="start" fill="#1c1c1c" textLength="35.35" lengthAdjust="spacingAndGlyphs">Vehicle</text>
<text transform="translate(435.6,473.48) rotate(-90)" font-size="10.31" text-anchor="start" fill="#1c1c1c" textLength="42.9" lengthAdjust="spacingAndGlyphs">Ribavirin</text>
<text transform="translate(473.1,472.45) rotate(-90)" font-size="10.24" text-anchor="start" fill="#1c1c1c" textLength="35.35" lengthAdjust="spacingAndGlyphs">Vehicle</text>
<text transform="translate(505.4,473.48) rotate(-90)" font-size="10.31" text-anchor="start" fill="#1c1c1c" textLength="42.9" lengthAdjust="spacingAndGlyphs">Ribavirin</text>
<text x="270.94" y="491.3" font-size="11.49" text-anchor="start" fill="#1c1c1c" textLength="34.03" lengthAdjust="spacingAndGlyphs">HSP70</text>
<text x="282.82" y="517.5" font-size="11.34" text-anchor="start" fill="#1c1c1c" textLength="22.39" lengthAdjust="spacingAndGlyphs">actin</text>
<text x="248.68" y="542.9" font-size="10.99" text-anchor="start" fill="#1c1c1c" textLength="57.08" lengthAdjust="spacingAndGlyphs">HSP70/actin</text>
<text x="236.47" y="555.6" font-size="11.18" text-anchor="start" fill="#1c1c1c" textLength="70.17" lengthAdjust="spacingAndGlyphs">(mean &#177;&#160; SEM)</text>
<text x="314.48" y="548.4" font-size="11.16" text-anchor="start" fill="#1c1c1c" textLength="57.92" lengthAdjust="spacingAndGlyphs">0.51&#160; &#177;&#160; 0.09</text>
<text x="387.4" y="548.9" font-size="10.82" text-anchor="start" fill="#1c1c1c" textLength="56.14" lengthAdjust="spacingAndGlyphs">0.52&#160; &#177;&#160; 0.12</text>
<text x="455.79" y="548.9" font-size="10.9" text-anchor="start" fill="#1c1c1c" textLength="56.54" lengthAdjust="spacingAndGlyphs">0.35&#160; &#177;&#160; 0.08</text>
<rect x="311.9" y="475.5" width="64.9" height="22.3" fill="#f1f1f1"/>
<rect x="315.5" y="485.7" width="22.0" height="3.6" rx="1.8" fill="#1e1e1e" opacity="0.9" filter="url(#bl1)"/>
<rect x="350" y="487.5" width="22.5" height="2.4" rx="1.2" fill="#555" opacity="0.65" filter="url(#bl1)"/>
<rect x="311.9" y="500.4" width="64.9" height="24.8" fill="#dadada"/>
<path d="M313.5 512 C318.5 517.5 340.0 517.5 345.0 512" fill="none" stroke="#9c9c9c" stroke-width="1.5" opacity="0.8" filter="url(#bl1)"/>
<path d="M315.5 513 C319.5 515.5 339.0 515.5 343.0 513" fill="none" stroke="#c4c4c4" stroke-width="2.5" opacity="0.6" filter="url(#bl2)"/>
<path d="M346.5 512 C351.5 517.5 371.0 517.5 376.0 512" fill="none" stroke="#9c9c9c" stroke-width="1.5" opacity="0.8" filter="url(#bl1)"/>
<path d="M348.5 513 C352.5 515.5 370.0 515.5 374.0 513" fill="none" stroke="#c4c4c4" stroke-width="2.5" opacity="0.6" filter="url(#bl2)"/>
<rect x="383.8" y="476.0" width="63.6" height="23.6" fill="#e7e7e7"/>
<rect x="390.6" y="487.3" width="22.0" height="3.2" rx="1.6" fill="#202020" opacity="0.9" filter="url(#bl1)"/>
<rect x="422.6" y="487.0" width="20.6" height="2.4" rx="1.2" fill="#333" opacity="0.75" filter="url(#bl1)"/>
<rect x="383.8" y="502.3" width="63.6" height="22.2" fill="#dedede"/>
<rect x="385.0" y="511.2" width="28.4" height="7.6" rx="3.8" fill="#383838" opacity="0.92" filter="url(#bl1)"/>
<rect x="418.0" y="511.2" width="28.4" height="7.6" rx="3.8" fill="#383838" opacity="0.92" filter="url(#bl1)"/>
<rect x="454.5" y="476.0" width="62.9" height="23.6" fill="#e7e7e7"/>
<rect x="458.9" y="487.5" width="21.3" height="3.0" rx="1.5" fill="#2a2a2a" opacity="0.85" filter="url(#bl1)"/>
<rect x="491" y="487.5" width="20.4" height="2.2" rx="1.1" fill="#777" opacity="0.55" filter="url(#bl1)"/>
<rect x="454.5" y="502.3" width="62.9" height="22.2" fill="#dedede"/>
<rect x="455.2" y="511.0" width="29.8" height="8.0" rx="4.0" fill="#383838" opacity="0.92" filter="url(#bl1)"/>
<rect x="487.4" y="511.0" width="29.6" height="8.0" rx="4.0" fill="#383838" opacity="0.92" filter="url(#bl1)"/>
</svg></body></html>
